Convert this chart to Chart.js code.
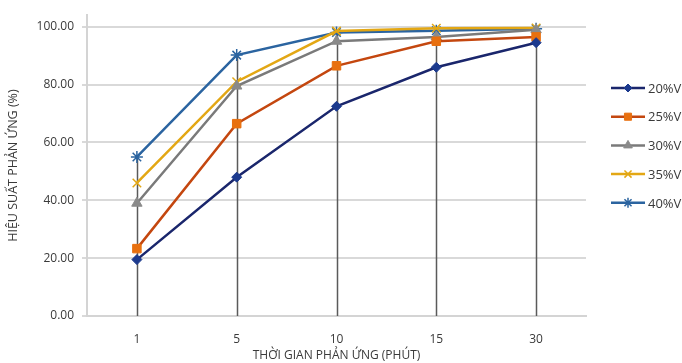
<!DOCTYPE html>
<html>
<head>
<meta charset="utf-8">
<script src="https://cdn.jsdelivr.net/npm/chart.js@4/dist/chart.umd.min.js"></script>
<style>
  html, body { margin: 0; padding: 0; background: #fff; }
  #wrap { width: 682px; height: 363px; position: relative; }
</style>
</head>
<body>
<div id="wrap"><canvas id="yieldChart"></canvas></div>
<script>
// Reaction time categories (minutes)
var timeLabels = ['1', '5', '10', '15', '30'];

// Reaction yield (%) per ethanol volume fraction
var seriesNames = ['20%V', '25%V', '30%V', '35%V', '40%V'];
var yield20 = [19.5, 48.0, 72.5, 86.0, 94.5];
var yield25 = [23.3, 66.5, 86.5, 95.0, 96.5];
var yield30 = [39.0, 79.5, 95.0, 96.5, 99.0];
var yield35 = [46.0, 81.0, 98.5, 99.5, 99.6];
var yield40 = [55.0, 90.2, 98.0, 98.6, 99.3];

var yTicks = [0, 20, 40, 60, 80, 100];

var styles = [
  { line: '#1a266c', fill: '#1c3a8e', point: 'rectRot', radius: 5 },
  { line: '#c4470f', fill: '#e8700f', point: 'rect', radius: 6 },
  { line: '#7a7a7a', fill: '#8a8a8a', point: 'triangle', radius: 6 },
  { line: '#e3a714', fill: '#e3a714', point: 'crossRot', radius: 6 },
  { line: '#2b64a0', fill: '#4a84c4', point: 'star', radius: 6 }
];

var allSeries = [yield20, yield25, yield30, yield35, yield40];

var datasets = allSeries.map(function(values, i) {
  var s = styles[i];
  var thin = s.point === 'crossRot' || s.point === 'star';
  return {
    label: seriesNames[i],
    data: values,
    borderColor: s.line,
    backgroundColor: s.fill,
    pointBorderColor: thin ? s.line : s.fill,
    pointBackgroundColor: s.fill,
    pointStyle: s.point,
    pointRadius: s.radius,
    pointBorderWidth: thin ? 1.5 : 1,
    borderWidth: 2.5,
    tension: 0,
    fill: false
  };
});

// Excel-style drop lines from the highest point of each category to the axis
var dropLines = {
  id: 'dropLines',
  beforeDatasetsDraw: function(chart) {
    var ctx = chart.ctx;
    var x = chart.scales.x, y = chart.scales.y;
    ctx.save();
    ctx.strokeStyle = '#5a5a5a';
    ctx.lineWidth = 1.5;
    timeLabels.forEach(function(lbl, i) {
      var top = Math.max.apply(null, allSeries.map(function(s) { return s[i]; }));
      var px = Math.round(x.getPixelForValue(i)) + 0.5;
      ctx.beginPath();
      ctx.moveTo(px, y.getPixelForValue(top));
      ctx.lineTo(px, y.getPixelForValue(0));
      ctx.stroke();
    });
    ctx.restore();
  }
};

// Legend on the right: short line with the series marker in the middle
var sideLegend = {
  id: 'sideLegend',
  afterDraw: function(chart) {
    var ctx = chart.ctx;
    var left = chart.chartArea.right + 25;
    var lineW = 34;
    var startY = 88, step = 28.7;
    ctx.save();
    datasets.forEach(function(ds, i) {
      var yy = startY + step * i;
      ctx.strokeStyle = ds.borderColor;
      ctx.lineWidth = 2.5;
      ctx.beginPath();
      ctx.moveTo(left, yy);
      ctx.lineTo(left + lineW, yy);
      ctx.stroke();
      ctx.fillStyle = ds.pointBackgroundColor;
      ctx.strokeStyle = ds.pointBorderColor;
      ctx.lineWidth = ds.pointBorderWidth;
      Chart.helpers.drawPoint(ctx, {
        pointStyle: ds.pointStyle,
        radius: ds.pointRadius - 1,
        rotation: 0,
        borderWidth: ds.pointBorderWidth
      }, left + lineW / 2, yy);
      ctx.fillStyle = '#3a3a3a';
      ctx.font = '13px "Open Sans", sans-serif';
      ctx.textBaseline = 'middle';
      ctx.fillText(ds.label, left + lineW + 3, yy + 1);
    });
    ctx.restore();
  }
};

new Chart(document.getElementById('yieldChart'), {
  type: 'line',
  data: { labels: timeLabels, datasets: datasets },
  plugins: [dropLines, sideLegend],
  options: {
    responsive: true,
    maintainAspectRatio: false,
    animation: false,
    layout: { padding: { top: 6, right: 96, left: 0, bottom: 0 } },
    plugins: {
      legend: { display: false },
      tooltip: { enabled: false }
    },
    scales: {
      x: {
        offset: true,
        grid: { display: false },
        border: { display: true, color: '#d4d4d4', width: 2 },
        ticks: {
          color: '#3a3a3a',
          padding: 8,
          font: { family: '"Open Sans", sans-serif', size: 12 }
        },
        title: {
          display: true,
          text: 'THỜI GIAN PHẢN ỨNG (PHÚT)',
          color: '#3a3a3a',
          padding: { top: 1, bottom: 0 },
          font: { family: '"Open Sans", sans-serif', size: 12 }
        },
        afterFit: function(scale) { scale.height = 47; }
      },
      y: {
        min: 0,
        max: 104,
        afterBuildTicks: function(scale) {
          scale.ticks = yTicks.map(function(v) { return { value: v }; });
        },
        grid: { color: '#d9d9d9', lineWidth: 2, tickLength: 5 },
        border: { display: true, color: '#d4d4d4', width: 2 },
        ticks: {
          color: '#3a3a3a',
          padding: 8,
          font: { family: '"Open Sans", sans-serif', size: 12 },
          callback: function(v) { return Number(v).toFixed(2); }
        },
        title: {
          display: true,
          text: 'HIỆU SUẤT PHẢN ỨNG (%)',
          color: '#3a3a3a',
          padding: { top: 6, bottom: 0 },
          font: { family: '"Open Sans", sans-serif', size: 12.5 }
        },
        afterFit: function(scale) { scale.width = 87; }
      }
    }
  }
});
</script>
</body>
</html>
